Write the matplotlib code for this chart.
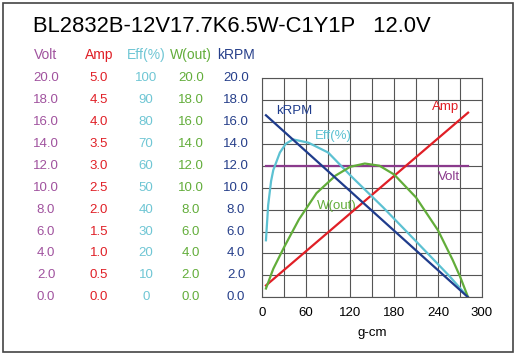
import matplotlib
matplotlib.use("Agg")
import matplotlib.pyplot as plt
from matplotlib.patches import Rectangle
from matplotlib.transforms import blended_transform_factory

plt.rcParams['font.family'] = ['Liberation Sans', 'DejaVu Sans']

# 제목 / 축 이름
title = "BL2832B-12V17.7K6.5W-C1Y1P   12.0V"
x_label = "g-cm"
x_ticks = [0, 60, 120, 180, 240, 300]

# 곡선 데이터 (토크 g-cm 기준)
krpm_x = [5, 281]
krpm_y = [16.6, 0.0]

amp_x = [5, 281]
amp_y = [0.27, 4.21]

volt_x = [5, 281]
volt_y = [12.0, 12.0]

eff_x = [5, 8, 12, 15, 24, 32, 42, 63, 90, 122, 165, 210, 256, 281]
eff_y = [26, 42, 53, 58, 66, 70, 72, 70.5, 66, 55, 41, 25.5, 9.5, 0]

wout_x = [5, 15, 30, 50, 74, 100, 120, 140, 160, 180, 210, 240, 260, 270, 281]
wout_y = [0.8, 2.6, 4.6, 7.1, 9.5, 11.1, 11.9, 12.2, 12.0, 11.2, 9.1, 6.1, 3.4, 1.9, 0.0]

# 왼쪽 눈금 열
volt_ticks = [0, 2, 4, 6, 8, 10, 12, 14, 16, 18, 20]
amp_ticks = [0, 0.5, 1.0, 1.5, 2.0, 2.5, 3.0, 3.5, 4.0, 4.5, 5.0]
eff_ticks = [0, 10, 20, 30, 40, 50, 60, 70, 80, 90, 100]
wout_ticks = [0, 2, 4, 6, 8, 10, 12, 14, 16, 18, 20]
krpm_ticks = [0, 2, 4, 6, 8, 10, 12, 14, 16, 18, 20]

fig = plt.figure(figsize=(5.16, 3.55), dpi=100)
ax = fig.add_axes([262.3 / 516, 1 - 297.3 / 355, 219.7 / 516, 219.3 / 355])

ax.set_xlim(0, 300)
ax.set_ylim(0, 20)
ax.set_xticks(x_ticks)
ax.set_xticks(range(0, 301, 30), minor=True)
ax.set_yticks(range(0, 21, 2))
ax.tick_params(which='both', length=0)
ax.tick_params(axis='x', labelsize=9.5, pad=7)
ax.set_yticklabels([])
ax.grid(True, which='both', color='#555555', lw=0.8)
for s in ax.spines.values():
    s.set_color('#555555')
    s.set_linewidth(0.8)
ax.set_xlabel(x_label, fontsize=9.5, labelpad=6)

# 시리즈별 축 (각자의 스케일)
cols = [
    # name, ticks, ylim, fmt, line color, tick color, column x
    ("Volt", volt_ticks, (0, 20), "{:.1f}", '#8a3a8c', '#a0529e', 46),
    ("Amp", amp_ticks, (0, 5), "{:.1f}", '#e01f26', '#e01f26', 99),
    ("Eff(%)", eff_ticks, (0, 100), "{:.0f}", '#5cc1d2', '#6fc6d4', 146),
    ("W(out)", wout_ticks, (0, 20), "{:.1f}", '#62ad3a', '#62ad3a', 191),
    ("kRPM", krpm_ticks, (0, 20), "{:.1f}", '#1f3c8c', '#263f8a', 236),
]
axes = {}
for name, ticks, lim, fmt, lc, tc, cx in cols:
    a = ax.twinx()
    a.set_ylim(*lim)
    a.axis('off')
    axes[name] = a
    tr = blended_transform_factory(fig.transFigure, a.transData)
    for t in ticks:
        a.text(cx / 516, t, fmt.format(t), transform=tr, ha='center', va='center',
               fontsize=9.5, color=tc)
    fig.text(cx / 516, 1 - 55 / 355, name, ha='center', va='center', fontsize=10, color=tc)

lw = 1.6
axes["Volt"].plot(volt_x, volt_y, color='#8a3a8c', lw=lw)
axes["Eff(%)"].plot(eff_x, eff_y, color='#5cc1d2', lw=lw)
axes["W(out)"].plot(wout_x, wout_y, color='#62ad3a', lw=lw)
axes["kRPM"].plot(krpm_x, krpm_y, color='#1f3c8c', lw=lw)
axes["Amp"].plot(amp_x, amp_y, color='#e01f26', lw=lw)

# 곡선 이름표
ax.text(19.5, 16.95, "kRPM", color='#1f3c8c', fontsize=9.5, va='center')
ax.text(72, 14.7, "Eff(%)", color='#5cc1d2', fontsize=9.5, va='center')
ax.text(232, 17.4, "Amp", color='#e01f26', fontsize=9.5, va='center')
ax.text(240, 10.96, "Volt", color='#8a3a8c', fontsize=9.5, va='center')
ax.text(74, 8.37, "W(out)", color='#62ad3a', fontsize=9.5, va='center')

fig.text(33 / 516, 1 - 27 / 355, title, fontsize=15.8, va='center', ha='left')

# 바깥 테두리
fig.patches.append(Rectangle((3 / 516, 3.5 / 355), 509.5 / 516, 348.5 / 355,
                             transform=fig.transFigure, fill=False,
                             edgecolor='#444444', lw=1.2))

fig.savefig("out.png", dpi=100)
